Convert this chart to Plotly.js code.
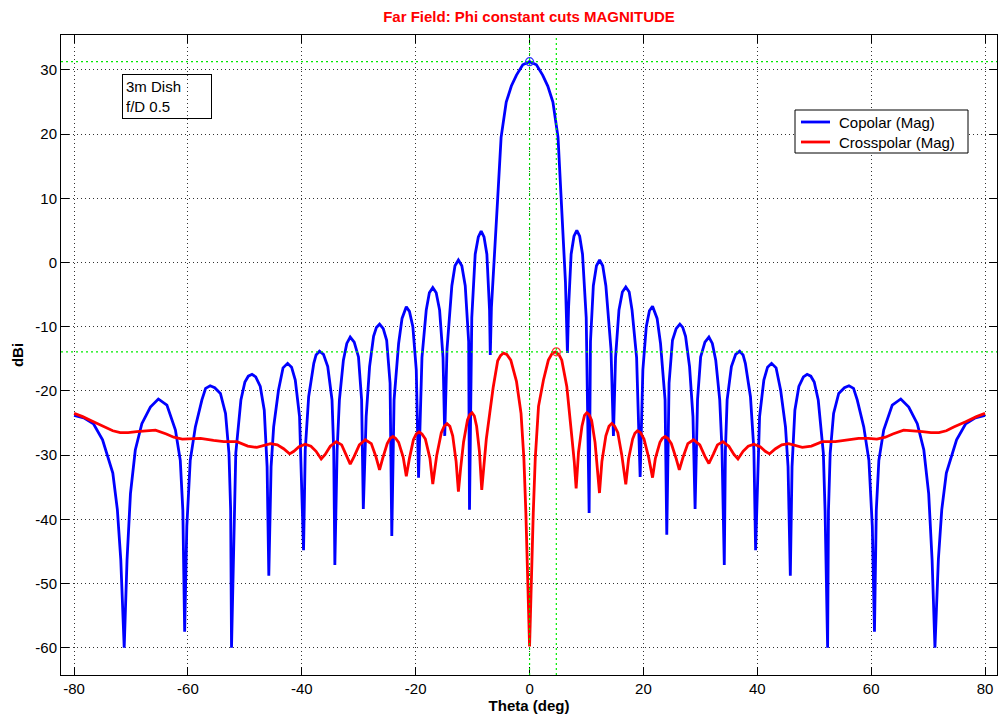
<!DOCTYPE html>
<html>
<head>
<meta charset="utf-8">
<script src="https://cdn.plot.ly/plotly-3.0.1.min.js"></script>
<style>html,body{margin:0;padding:0;background:#fff;}#chart{width:998px;height:720px;}</style>
</head>
<body>
<div id="chart"></div>
<script>
// ---- data: [theta (deg), level (dBi)] ----
const copolarLeft = [
 [-80,-23.8],[-78.3,-24.2],[-76.6,-25.1],[-75.0,-27.6],[-73.2,-32.8],[-72.4,-38.5],[-71.8,-46.3],[-71.2,-60],
 [-70.7,-46.3],[-70.1,-36.0],[-69.25,-29.2],[-68.1,-25.1],[-66.6,-22.5],[-65.2,-21.25],[-63.7,-22.2],[-62.2,-26.1],
 [-61.35,-30.8],[-60.9,-38.6],[-60.58,-57.5],[-60.2,-41.1],[-59.6,-30.8],[-58.7,-25.6],[-57.55,-21.4],[-56.9,-19.6],[-56.1,-19.2],
 [-55.3,-19.5],[-54.3,-20.4],[-53.4,-23.5],[-52.8,-29.7],[-52.5,-38.6],[-52.35,-60],[-51.9,-38.6],[-51.6,-29.7],[-50.7,-21.4],
 [-50.0,-18.6],[-49.4,-17.7],[-48.75,-17.4],[-48.1,-17.8],[-47.3,-19.3],[-46.6,-23.0],[-46.1,-31.8],[-45.8,-48.8],[-45.4,-31.8],[-44.95,-25.6],
 [-44.1,-19.9],[-43.3,-16.4],[-42.5,-15.7],[-41.8,-16.3],[-41.15,-18.3],[-40.4,-24.0],[-40.0,-34.4],[-39.7,-44.8],[-39.4,-29.2],[-38.8,-20.9],
 [-37.9,-15.7],[-37.5,-14.4],[-36.9,-13.8],[-36.2,-14.3],[-35.45,-16.2],[-34.7,-21.4],[-34.4,-29.2],[-34.2,-47.1],[-33.8,-29.2],[-33.4,-21.4],
 [-32.7,-15.2],[-32.1,-12.6],[-31.5,-11.6],[-30.8,-12.4],[-30.05,-14.7],[-29.5,-21.4],[-29.2,-38.4],[-28.7,-24.0],[-28.1,-16.2],[-27.4,-11.5],
 [-26.9,-10.1],[-26.35,-9.6],[-25.7,-10.3],[-25.1,-12.1],[-24.5,-18.8],[-24.2,-42.6],[-23.8,-21.4],[-23.0,-12.6],[-22.4,-8.7],[-21.65,-6.9],
 [-21.1,-7.6],[-20.5,-10.0],[-19.9,-16.7],[-19.5,-33.5],[-18.9,-14.8],[-18.15,-7.4],[-17.6,-4.7],[-17.0,-3.9],[-16.4,-4.7],[-15.8,-7.4],[-15.2,-14.8],
 [-14.9,-27.0],[-14.5,-13.5],[-13.65,-3.6],[-13.1,-0.5],[-12.5,0.4],[-11.9,-0.5],[-11.3,-3.6],[-10.7,-12.3],[-10.55,-38.5],[-10.15,-8.6],
 [-9.55,1.3],[-9.0,4.0],[-8.5,4.9],[-8.0,4.0],[-7.5,1.3],[-7.03,-7.4],[-6.9,-14.4],[-6.7,-7.0],[-6.3,0.0],[-5.6,10.0],
 [-5.0,19.5],[-4.1,25.0],[-3.2,27.5],[-2.3,29.2],[-1.2,30.8]
];
const copolarRight = [
 [0,31.3],[1.2,30.8],[2.3,29.2],[3.2,27.5],[4.1,25.0],[5.0,19.5],[5.5,11.0],[5.95,5.0],[6.3,-3.0],[6.65,-14.1],
 [6.85,-7.0],[7.3,1.3],[7.8,4.1],[8.3,5.0],[8.8,4.1],[9.3,1.3],[9.95,-8.6],[10.46,-39.0],[10.7,-12.3],[11.2,-3.6],
 [11.75,-0.5],[12.3,0.4],[12.85,-0.5],[13.4,-3.6],[14.3,-13.5],[14.73,-27.0],[15.1,-14.8],[15.7,-7.4],[16.3,-4.6],
 [16.9,-3.8],[17.5,-4.6],[18.0,-7.4],[18.8,-14.8],[19.42,-33.4],[19.9,-16.7],[20.5,-10.0],[21.05,-7.5],[21.6,-6.8],
 [22.4,-8.7],[23.0,-12.6],[23.8,-21.4],[24.1,-42.4],[24.5,-18.8],[25.1,-12.1],[25.75,-10.3],[26.4,-9.6],[26.9,-10.1],
 [27.4,-11.5],[28.1,-16.2],[28.7,-24.0],[29.07,-38.4],[29.5,-21.4],[30.05,-14.7],[30.8,-12.4],[31.5,-11.6],[32.1,-12.6],
 [32.7,-15.2],[33.4,-21.4],[33.8,-29.2],[34.2,-47.1],[34.4,-29.2],[34.7,-21.4],[35.45,-16.2],[36.2,-14.3],[36.9,-13.8],
 [37.5,-14.4],[37.9,-15.7],[38.8,-20.9],[39.4,-29.2],[39.7,-44.8],[40.0,-34.4],[40.4,-24.0],[41.15,-18.3],[41.8,-16.3],
 [42.5,-15.7],[43.3,-16.4],[44.1,-19.9],[44.95,-25.6],[45.4,-31.8],[45.8,-48.8],[46.1,-31.8],[46.6,-23.0],[47.3,-19.3],
 [48.1,-17.8],[48.75,-17.4],[49.4,-17.7],[50.0,-18.6],[50.7,-21.4],[51.6,-29.7],[51.9,-38.6],[52.35,-60],[52.5,-38.6],
 [52.8,-29.7],[53.4,-23.5],[54.3,-20.4],[55.3,-19.5],[56.1,-19.2],[56.9,-19.6],[57.55,-21.4],[58.7,-25.6],[59.6,-30.8],
 [60.2,-41.1],[60.58,-57.5],[60.9,-38.6],[61.35,-30.8],[62.2,-26.1],[63.7,-22.2],[65.2,-21.25],[66.6,-22.5],[68.1,-25.1],
 [69.25,-29.2],[70.1,-36.0],[70.7,-46.3],[71.2,-60],[71.8,-46.3],[72.4,-38.5],[73.2,-32.8],[75.0,-27.6],
 [76.6,-25.1],[78.3,-24.2],[80,-23.8]
];
const crossLeft = [
 [-80,-23.5],[-78.5,-24.0],[-76.6,-24.8],[-74.5,-25.6],[-73.2,-26.2],[-71.9,-26.5],[-70.5,-26.5],[-69.0,-26.35],
 [-67.5,-26.2],[-65.7,-26.1],[-63.8,-26.7],[-62.5,-27.2],[-61.0,-27.5],[-59.5,-27.4],[-57.8,-27.4],[-55.5,-27.7],
 [-53.7,-27.9],[-51.4,-27.9],[-49.5,-28.6],[-47.9,-28.8],[-46.8,-28.5],[-45.5,-28.2],[-44.3,-28.4],[-43.2,-29.0],
 [-42.15,-29.8],[-41.4,-29.4],[-40.5,-28.7],[-39.4,-28.3],[-38.4,-28.6],[-37.5,-29.4],[-36.6,-30.6],[-35.9,-29.9],
 [-35.0,-28.6],[-33.95,-27.9],[-33.0,-28.4],[-32.3,-29.8],[-31.5,-31.4],[-30.8,-30.2],[-29.9,-28.4],[-28.85,-27.6],
 [-27.8,-28.2],[-27.0,-30.2],[-26.35,-32.3],[-25.8,-30.5],[-25.0,-28.2],[-24.5,-27.4],[-24.0,-27.1],[-23.5,-27.4],[-23.0,-28.0],[-22.2,-30.3],
 [-21.65,-33.3],[-21.1,-30.5],[-20.4,-27.6],[-19.9,-26.7],[-19.4,-26.4],[-18.9,-26.7],[-18.3,-27.5],[-17.5,-30.5],[-17.0,-34.5],[-16.3,-30.0],
 [-15.5,-26.5],[-15.0,-25.5],[-14.5,-25.1],[-14.0,-25.5],[-13.5,-27.0],[-12.9,-31.0],[-12.5,-35.7],[-12.1,-32.0],[-11.6,-28.0],[-10.9,-24.5],
 [-10.5,-23.7],[-10.1,-23.4],[-9.7,-23.9],[-9.3,-25.5],[-8.8,-29.5],[-8.4,-35.4],[-8.0,-31.0],[-7.6,-27.5],[-7.0,-23.5],[-6.4,-19.5],
 [-5.6,-15.3],[-5.1,-14.5],[-4.6,-14.1],[-4.0,-14.3],[-3.3,-15.2],[-2.3,-18.5],[-1.5,-23.5],[-1.0,-30.5],[-0.65,-39.0],[-0.35,-48.0],
 [-0.15,-55.0]
];
const crossRight = [
 [0,-59.8],[0.15,-55.0],[0.35,-48.0],[0.65,-39.0],[1.0,-30.5],[1.57,-22.4],[2.44,-18.3],[3.3,-15.2],[4.0,-14.1],[4.6,-13.9],
 [5.2,-14.4],[5.66,-15.2],[6.54,-19.3],[7.0,-23.0],[7.42,-27.1],[7.85,-31.0],[8.18,-35.2],[8.6,-29.5],[9.2,-25.5],[9.65,-23.8],[10.05,-23.4],
 [10.45,-23.7],[10.9,-24.6],[11.5,-28.0],[11.95,-32.0],[12.28,-35.9],[12.7,-31.0],[13.4,-27.0],[13.95,-25.5],[14.44,-25.05],[14.95,-25.5],[15.5,-26.5],
 [16.2,-30.0],[16.9,-34.55],[17.4,-30.5],[18.1,-27.5],[18.5,-26.6],[18.95,-26.2],[19.5,-26.5],[20.1,-27.5],[20.9,-30.3],[21.6,-33.5],
 [22.1,-30.5],[22.9,-28.0],[23.3,-27.4],[23.8,-27.1],[24.3,-27.4],[24.9,-28.2],[25.7,-30.4],[26.3,-32.3],[27.0,-30.2],[27.8,-28.2],
 [28.8,-27.6],[29.9,-28.4],[30.8,-30.2],[31.5,-31.3],[32.3,-29.8],[33.0,-28.4],[33.95,-27.9],[35.0,-28.6],
 [35.9,-29.9],[36.6,-30.6],[37.5,-29.4],[38.4,-28.6],[39.4,-28.3],[40.5,-28.7],[41.4,-29.4],[42.15,-29.8],
 [43.2,-29.0],[44.3,-28.4],[45.5,-28.2],[46.8,-28.5],[47.9,-28.8],[49.5,-28.6],[51.4,-27.9],[53.7,-27.9],
 [55.5,-27.7],[57.8,-27.4],[59.5,-27.4],[61.0,-27.5],[62.5,-27.2],[63.8,-26.7],[65.7,-26.1],[67.5,-26.2],
 [69.0,-26.35],[70.5,-26.5],[71.9,-26.5],[73.2,-26.2],[74.5,-25.6],[76.6,-24.8],[78.5,-24.0],[80,-23.5]
];
const peakTheta = [0, 4.7];        // marked maxima (copolar, crosspolar)
const peakLevel = [31.3, -13.9];
const seriesNames = ['Copolar (Mag)', 'Crosspolar (Mag)'];
const seriesColors = ['#0000ff', '#ff0000'];
const xTicks = [-80, -60, -40, -20, 0, 20, 40, 60, 80];
const yTicks = [-60, -50, -40, -30, -20, -10, 0, 10, 20, 30];
const noteLines = ['3m Dish', 'f/D 0.5'];
const chartTitle = 'Far Field: Phi constant cuts MAGNITUDE';
const xLabel = 'Theta (deg)';
const yLabel = 'dBi';

// ---- build ----
const co = copolarLeft.concat(copolarRight);
const cx = crossLeft.concat(crossRight);
const FONT = 'Liberation Sans, Arial, Helvetica, sans-serif';
const GREEN = 'rgb(0,235,0)';
const M = {l: 61, r: 1, t: 35, b: 45};
const PW = 998 - M.l - M.r, PH = 720 - M.t - M.b;
const px2x = p => (p - M.l) / PW;          // page pixel -> paper fraction
const py2y = p => (720 - M.b - p) / PH;

const traces = [
  {x: co.map(p => p[0]), y: co.map(p => p[1]), type: 'scatter', mode: 'lines', name: seriesNames[0],
   line: {color: seriesColors[0], width: 2.8}, showlegend: false},
  {x: cx.map(p => p[0]), y: cx.map(p => p[1]), type: 'scatter', mode: 'lines', name: seriesNames[1],
   line: {color: seriesColors[1], width: 2.8}, showlegend: false},
  {x: [peakTheta[0]], y: [peakLevel[0]], type: 'scatter', mode: 'markers', showlegend: false,
   marker: {symbol: 'circle-open', size: 8, color: '#3030ff', line: {width: 1.2}}},
  {x: [peakTheta[1]], y: [peakLevel[1]], type: 'scatter', mode: 'markers', showlegend: false,
   marker: {symbol: 'circle-open', size: 8, color: '#ff3030', line: {width: 1.2}}}
];

const shapes = [];
peakTheta.forEach(t => shapes.push({type: 'line', xref: 'x', yref: 'y domain', x0: t, x1: t, y0: 0, y1: 1,
  layer: 'above', line: {color: GREEN, width: 1.2, dash: '2px,3px'}}));
peakLevel.forEach(v => shapes.push({type: 'line', xref: 'x domain', yref: 'y', x0: 0, x1: 1, y0: v, y1: v,
  layer: 'above', line: {color: GREEN, width: 1.2, dash: '2px,3px'}}));

// legend box (drawn as a boxed key, like the original)
const legendBox = {left: 795, right: 968, top: 110, bottom: 153, row0: 122, rowGap: 20};
shapes.push({type: 'rect', xref: 'paper', yref: 'paper', x0: px2x(legendBox.left), x1: px2x(legendBox.right),
  y0: py2y(legendBox.bottom), y1: py2y(legendBox.top), layer: 'above', fillcolor: '#fff', line: {color: '#000', width: 1}});
const annotations = [{xref: 'paper', yref: 'paper', x: px2x(122), y: py2y(74), xanchor: 'left', yanchor: 'top',
    text: noteLines.join('<br>'), showarrow: false, align: 'left', bordercolor: '#000', borderwidth: 1,
    borderpad: 3, width: 82, height: 37, font: {family: FONT, size: 15, color: '#000'}}];
seriesNames.forEach((name, i) => {
  const yy = py2y(legendBox.row0 + i * legendBox.rowGap);
  shapes.push({type: 'line', xref: 'paper', yref: 'paper', x0: px2x(801), x1: px2x(830), y0: yy, y1: yy,
    layer: 'above', line: {color: seriesColors[i], width: 2.8}});
  annotations.push({xref: 'paper', yref: 'paper', x: px2x(837), y: yy, xanchor: 'left', yanchor: 'middle',
    text: name, showarrow: false, font: {family: FONT, size: 15, color: '#000'}});
});

const axisCommon = {
  ticks: 'inside', ticklen: 8, tickwidth: 1, tickcolor: '#000',
  showline: true, linecolor: '#000', linewidth: 1, mirror: 'ticks',
  showgrid: true, gridcolor: '#333', gridwidth: 1, griddash: '1px,3px',
  zeroline: false, tickfont: {family: FONT, size: 15, color: '#000'}
};

const layout = {
  width: 998, height: 720,
  margin: M,
  paper_bgcolor: '#fff', plot_bgcolor: '#fff',
  font: {family: FONT, size: 15, color: '#000'},
  showlegend: false,
  title: {text: chartTitle, font: {family: FONT, size: 15, color: '#ff0000', weight: 'bold'},
          x: 0.5, xref: 'paper', xanchor: 'center', y: 1 - 17 / 720, yref: 'container', yanchor: 'middle'},
  xaxis: Object.assign({}, axisCommon, {range: [-82.3, 82.1], tickvals: xTicks, ticktext: xTicks.map(String),
          title: {text: xLabel, font: {family: FONT, size: 15, weight: 'bold'}, standoff: 4}}),
  yaxis: Object.assign({}, axisCommon, {range: [-64.25, 35.45], tickvals: yTicks, ticktext: yTicks.map(String),
          title: {text: yLabel, font: {family: FONT, size: 15, weight: 'bold'}, standoff: 8}}),
  annotations: annotations,
  shapes: shapes
};

Plotly.newPlot('chart', traces, layout, {staticPlot: true, displayModeBar: false});
</script>
</body>
</html>
